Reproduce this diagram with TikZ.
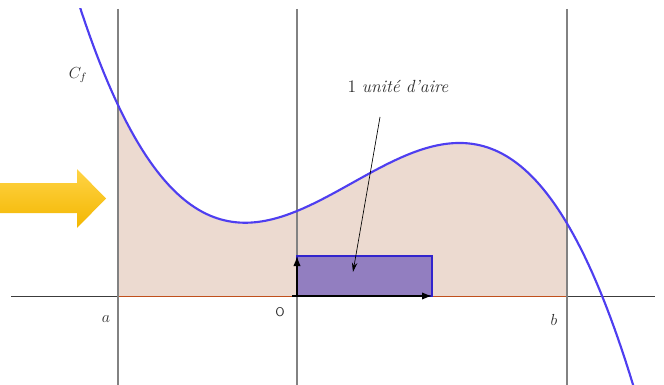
\documentclass[tikz,border=0pt]{standalone}
\usetikzlibrary{arrows.meta}
\definecolor{curveblue}{RGB}{78,62,240}
\definecolor{areafill}{RGB}{236,218,208}
\definecolor{areaedge}{RGB}{192,80,28}
\definecolor{rectfill}{RGB}{146,126,192}
\definecolor{rectedge}{RGB}{50,36,205}
\definecolor{vgray}{RGB}{130,130,130}
\definecolor{axisgray}{RGB}{60,60,60}
\definecolor{txtgray}{RGB}{45,45,45}
\tikzset{
  declare function={f(\t)=-0.9974*\t*\t*\t+1.2266*\t*\t+1.3817*\t+2.125;},
  vline/.style={draw=vgray,line width=1.1pt},
  lbl/.style={text=txtgray,inner sep=0pt},
  vec/.style={draw=black,line width=0.9pt,-{Latex[length=7.5pt,width=5.5pt]}},
}
\begin{document}
\begin{tikzpicture}[x=0.75pt,y=-0.75pt]
\useasboundingbox (0,0) rectangle (664,385);
\begin{scope}
\clip (0,9) rectangle (664,385);
% shaded area
\fill[areafill] (118,296) -- plot[variable=\t,domain=-1.326:2.0,samples=80] ({297+135*\t},{296-40*f(\t)}) -- (567,296) -- cycle;
% x axis
\draw[axisgray,line width=0.65pt] (11,296) -- (655,296);
\draw[areaedge,line width=0.65pt] (118,296) -- (567,296);
% vertical lines
\draw[vline] (118,9) -- (118,385);
\draw[vline] (297,9) -- (297,385);
\draw[vline] (567,9) -- (567,385);
% unit rectangle
\draw[fill=rectfill,draw=rectedge,line width=0.9pt] (297,256) rectangle (432,296);
% curve
\draw[curveblue,line width=1.6pt] plot[variable=\t,domain=-1.62:2.52,samples=150] ({297+135*\t},{296-40*f(\t)});
\end{scope}
% unit vectors
\coordinate (O) at (297,296);
\coordinate (I) at (432,296);
\coordinate (J) at (297,256);
\draw[vec] (O) -- (I);
\draw[vec] (O) -- (J);
\draw[black,line width=0.9pt] (292,296) -- (302,296);
% labels
\node[lbl,font=\large] (cf) at (78,75) {$C_f$};
\node[lbl,font=\large] (la) at (106,319) {$a$};
\node[lbl,font=\large] (lb) at (554,320) {$b$};
\node[lbl,font=\sffamily\fontsize{9.5}{11}\selectfont] (lo) at (280,312) {O};
\node[lbl,font=\fontsize{13.2}{15}\selectfont] (unit) at (398,86) {1 \textit{unité d'aire}};
% annotation arrow
\coordinate (ps) at (380,117);
\coordinate (pe) at (353,272);
\draw[black,line width=0.5pt,-{Stealth[length=7pt,width=4pt]}] (ps) -- (pe);
% yellow arrow
\shade[top color={rgb,255:red,255;green,212;blue,70},bottom color={rgb,255:red,243;green,182;blue,0}]
  (0,183) -- (77,183) -- (77,169) -- (106,198.5) -- (77,228) -- (77,213) -- (0,213) -- cycle;
\end{tikzpicture}
\end{document}
